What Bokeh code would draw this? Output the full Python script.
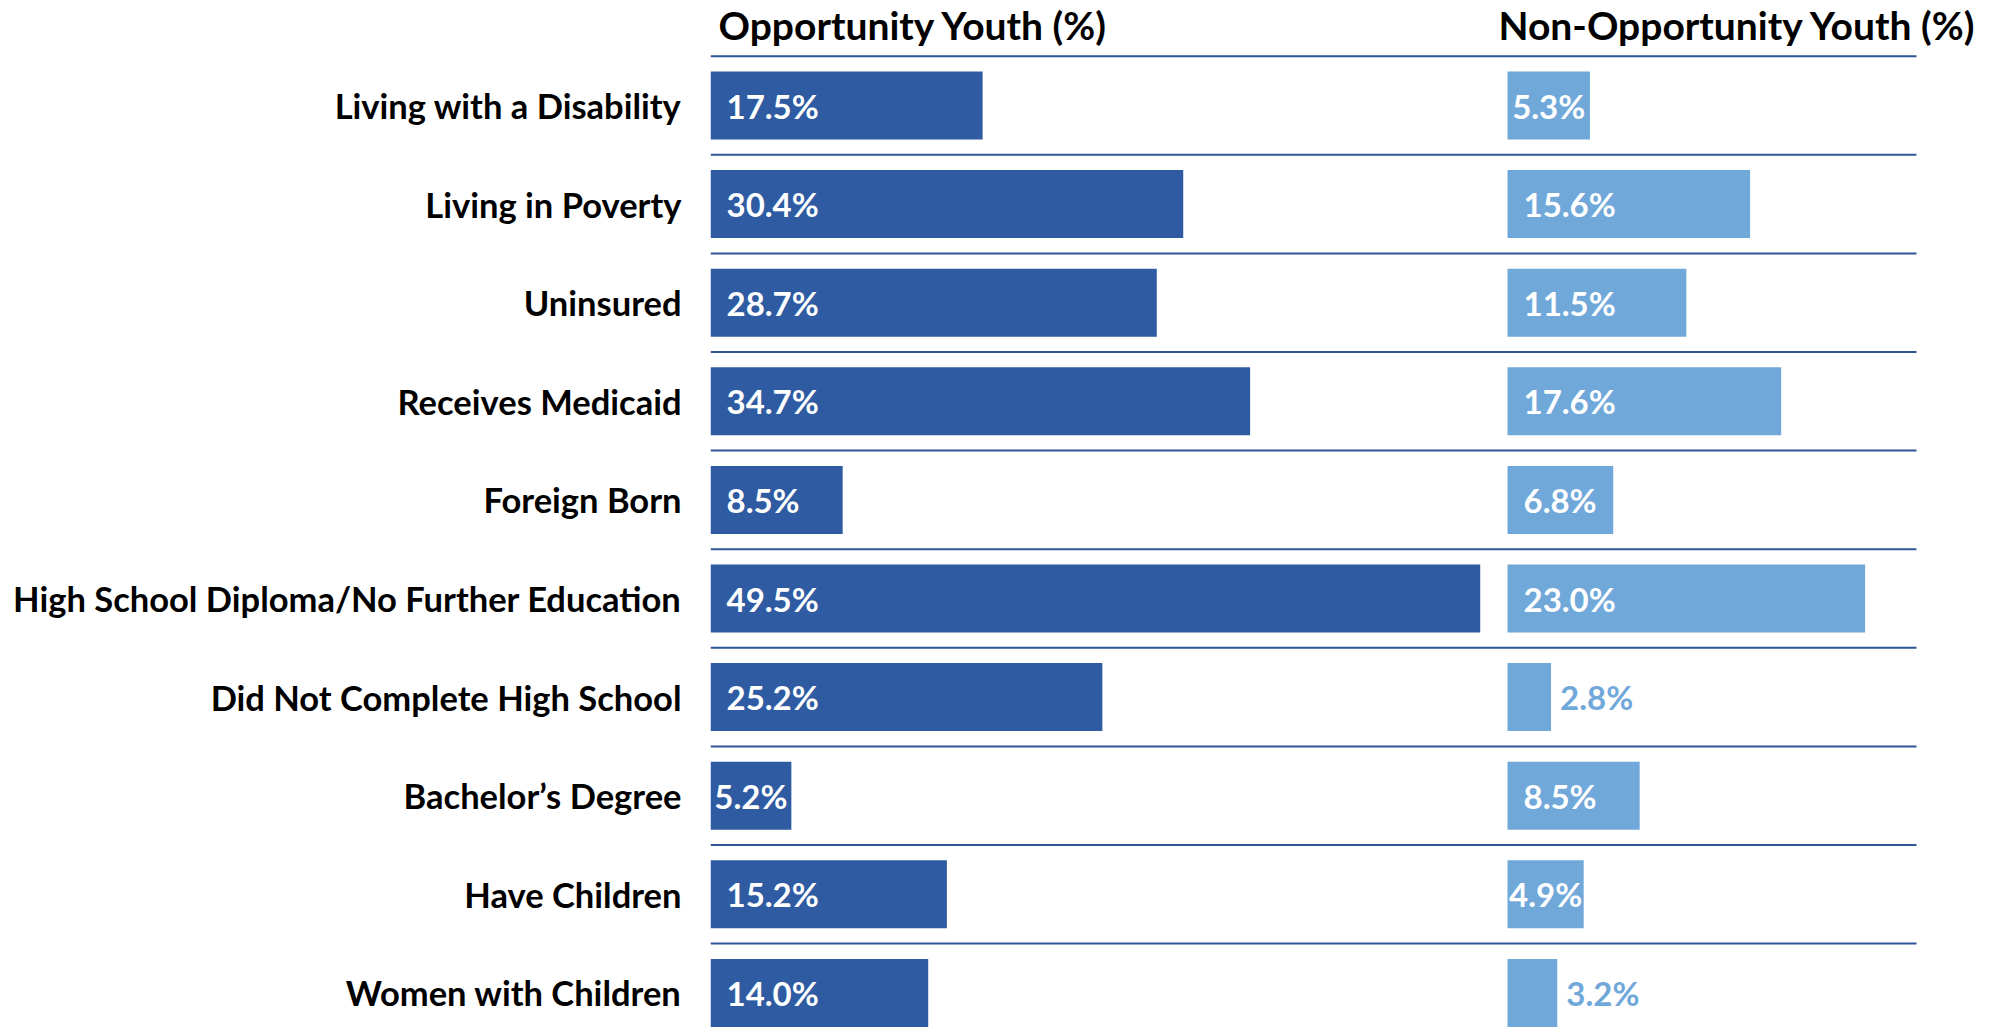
from bokeh.plotting import figure
from bokeh.models import Range1d, FixedTicker, ColumnDataSource
from bokeh.core.properties import value
from bokeh.embed import file_html
from bokeh.resources import INLINE

# ---- data ----
categories = [
    "Living with a Disability",
    "Living in Poverty",
    "Uninsured",
    "Receives Medicaid",
    "Foreign Born",
    "High School Diploma/No Further Education",
    "Did Not Complete High School",
    "Bachelor\u2019s Degree",
    "Have Children",
    "Women with Children",
]
opportunity_youth = [17.5, 30.4, 28.7, 34.7, 8.5, 49.5, 25.2, 5.2, 15.2, 14.0]
non_opportunity_youth = [5.3, 15.6, 11.5, 17.6, 6.8, 23.0, 2.8, 8.5, 4.9, 3.2]
panel_titles = ["Opportunity Youth (%)", "Non-Opportunity Youth (%)"]

# ---- layout / style ----
W, H = 1989, 1032
FRAME_LEFT = 710          # px where the dark bars start
PX_PER_PCT = 15.55        # px per percentage point
RIGHT_PANEL_PX = 1507     # px where the light bars start
LINE_END_PX = 1916
FIRST_CENTER_PX = 105
PITCH_PX = 98.6
BAR_H = 0.69
TITLE_CENTER_PX = 24

DARK = "#2E5BA2"
LIGHT = "#70A8DA"
RULE = "#2F5597"
FONT = "Lato"

n = len(categories)
OFFSET = (RIGHT_PANEL_PX - FRAME_LEFT) / PX_PER_PCT
x_end = (W - FRAME_LEFT) / PX_PER_PCT
line_end = (LINE_END_PX - FRAME_LEFT) / PX_PER_PCT
ys = [n - 1 - i for i in range(n)]
last_center_px = FIRST_CENTER_PX + (n - 1) * PITCH_PX
y_start = -(H - last_center_px) / PITCH_PX
y_end = (n - 1) + FIRST_CENTER_PX / PITCH_PX

p = figure(width=W, height=H, output_backend="svg", toolbar_location=None,
           x_range=Range1d(0, x_end), y_range=Range1d(y_start, y_end),
           x_axis_location=None, min_border_left=FRAME_LEFT, min_border_right=0,
           min_border_top=0, min_border_bottom=0)
p.outline_line_color = None
p.xgrid.visible = False
p.ygrid.visible = False
p.background_fill_color = "white"
p.border_fill_color = "white"

# category labels via the y axis
ax = p.yaxis[0]
ax.ticker = FixedTicker(ticks=ys)
ax.major_label_overrides = {y: c for y, c in zip(ys, categories)}
ax.axis_line_color = None
ax.major_tick_line_color = None
ax.minor_tick_line_color = None
ax.major_tick_out = 0
ax.major_tick_in = 0
ax.major_label_standoff = 29
ax.major_label_text_font = FONT
ax.major_label_text_font_style = "bold"
ax.major_label_text_font_size = "34.5px"
ax.major_label_text_color = "black"

# separator rules
rule_ys = [n - 1 + 0.5] + [y - 0.5 for y in ys[:-1]]
p.segment(x0=[0] * len(rule_ys), x1=[line_end] * len(rule_ys), y0=rule_ys, y1=rule_ys,
          line_color=RULE, line_width=2)

# bars
p.hbar(y=ys, left=0, right=opportunity_youth, height=BAR_H, fill_color=DARK, line_color=None)
p.hbar(y=ys, left=OFFSET, right=[OFFSET + v for v in non_opportunity_youth], height=BAR_H,
       fill_color=LIGHT, line_color=None)

# value labels
pad = 16 / PX_PER_PCT
gap = 9 / PX_PER_PCT


def place(vals, base, bar_color):
    xs, aligns, colors, texts = [], [], [], []
    for v in vals:
        texts.append(f"{v:.1f}%")
        if v < 4:
            xs.append(base + v + gap); aligns.append("left"); colors.append(bar_color)
        elif v < 6:
            xs.append(base + v / 2); aligns.append("center"); colors.append("white")
        else:
            xs.append(base + pad); aligns.append("left"); colors.append("white")
    return ColumnDataSource(dict(x=xs, y=ys, t=texts, a=aligns, c=colors))


for vals, base, col in [(opportunity_youth, 0, DARK), (non_opportunity_youth, OFFSET, LIGHT)]:
    src = place(vals, base, col)
    p.text(x="x", y="y", text="t", source=src, text_align="a", text_color="c",
           text_baseline="middle", text_font=value(FONT), text_font_style="bold",
           text_font_size="33px")

# panel titles
title_y = (n - 1) + (FIRST_CENTER_PX - TITLE_CENTER_PX) / PITCH_PX
p.text(x=[8 / PX_PER_PCT, OFFSET - 9 / PX_PER_PCT], y=[title_y, title_y], text=panel_titles,
       text_align="left", text_baseline="middle", text_color="black",
       text_font=value(FONT), text_font_style="bold", text_font_size="39px")

open("out.html", "w").write(file_html(p, INLINE))
